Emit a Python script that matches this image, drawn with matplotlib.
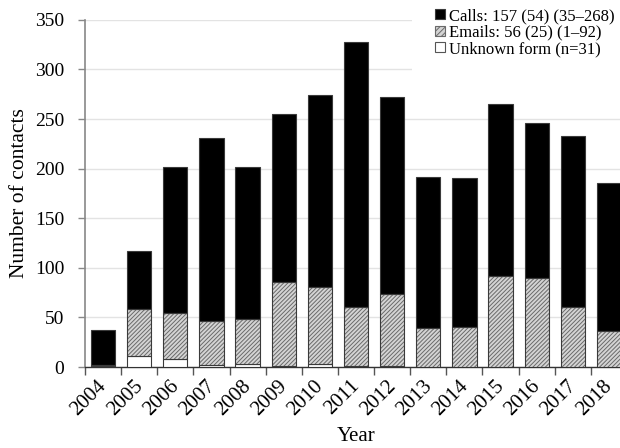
import numpy as np
import matplotlib
matplotlib.use("Agg")
import matplotlib.pyplot as plt
from matplotlib.patches import Patch
from matplotlib.transforms import ScaledTranslation

# matplotlib global parameters
matplotlib.rcParams["font.family"] = "Liberation Serif"
matplotlib.rcParams["hatch.linewidth"] = 0.7

years = ["2004", "2005", "2006", "2007", "2008", "2009", "2010", "2011",
         "2012", "2013", "2014", "2015", "2016", "2017", "2018"]
unknown = [1, 11, 8, 2, 3, 1, 3, 1, 1, 0, 0, 0, 0, 0, 0]
emails = [1, 47, 46, 44, 45, 85, 78, 59, 73, 39, 40, 92, 90, 60, 36]
calls = [35, 59, 148, 185, 154, 169, 193, 268, 198, 153, 151, 173, 156, 173, 149]

labels = ["Calls: 157 (54) (35\u2013268)", "Emails: 56 (25) (1\u201392)", "Unknown form (n=31)"]

x = np.arange(len(years))
unknown = np.array(unknown)
emails = np.array(emails)
calls = np.array(calls)

fig = plt.figure(figsize=(6.2, 4.48), dpi=100)
ax = fig.add_axes([85 / 620, 1 - 367 / 448, 542 / 620, 347.2 / 448])

w = 0.67
edge = "#3a3a3a"
email_face = "#d4d4d4"
email_hatch = "#6a6a6a"
ax.bar(x, unknown, w, color="white", edgecolor=edge, linewidth=0.8, zorder=3)
# hatched emails: draw hatch in grey first, then outline on top
ax.bar(x, emails, w, bottom=unknown, color=email_face, edgecolor=email_hatch,
       hatch="////////", linewidth=0, zorder=3)
ax.bar(x, emails, w, bottom=unknown, color="none", edgecolor=edge, linewidth=0.8, zorder=4)
ax.bar(x, calls, w, bottom=unknown + emails, color="black", edgecolor=edge, linewidth=0.8, zorder=3)

ax.set_xlim(-0.5, len(years) - 0.5)
ax.set_ylim(0, 350)
ax.set_yticks(np.arange(0, 351, 50))
ax.yaxis.grid(True, color="#e3e3e3", linewidth=1.0, zorder=0)
ax.set_axisbelow(True)

ax.set_xticks(x)
ax.set_xticklabels(years, rotation=45, ha="right", rotation_mode="anchor", fontsize=15)
ax.tick_params(axis="x", which="major", length=0, pad=7)
# nudge year labels a little left so they sit under the bars
shift = ScaledTranslation(-6 / 100, 0, fig.dpi_scale_trans)
for lab in ax.get_xticklabels():
    lab.set_transform(lab.get_transform() + shift)
ax.set_xticks(np.arange(-0.5, len(years), 1), minor=True)
ax.tick_params(axis="x", which="minor", length=6, color="#555555", width=1)
ax.tick_params(axis="y", labelsize=14, length=5, color="#888888", width=1, pad=10)

for s in ["top", "right"]:
    ax.spines[s].set_visible(False)
ax.spines["left"].set_color("#888888")
ax.spines["left"].set_linewidth(1.2)
ax.spines["bottom"].set_color("#333333")
ax.spines["bottom"].set_linewidth(1.0)

ax.set_ylabel("Number of contacts", fontsize=15.5, labelpad=4)
ax.set_xlabel("Year", fontsize=15, labelpad=5)

handles = [
    Patch(facecolor="black", edgecolor=edge, linewidth=0.8),
    Patch(facecolor=email_face, edgecolor=email_hatch, hatch="//////", linewidth=0.8),
    Patch(facecolor="white", edgecolor="#555555", linewidth=0.8),
]
legend = fig.legend(handles, labels, loc="upper left", bbox_to_anchor=(412 / 620, 1 + 15 / 448),
                    fontsize=12, frameon=True, handlelength=0.55, handleheight=0.55,
                    handletextpad=0.25, labelspacing=0.03, borderpad=1.4, borderaxespad=0)
legend.get_frame().set_linewidth(0)
legend.get_frame().set_facecolor("white")
legend.get_frame().set_alpha(1)

fig.savefig("out.png", dpi=100)
